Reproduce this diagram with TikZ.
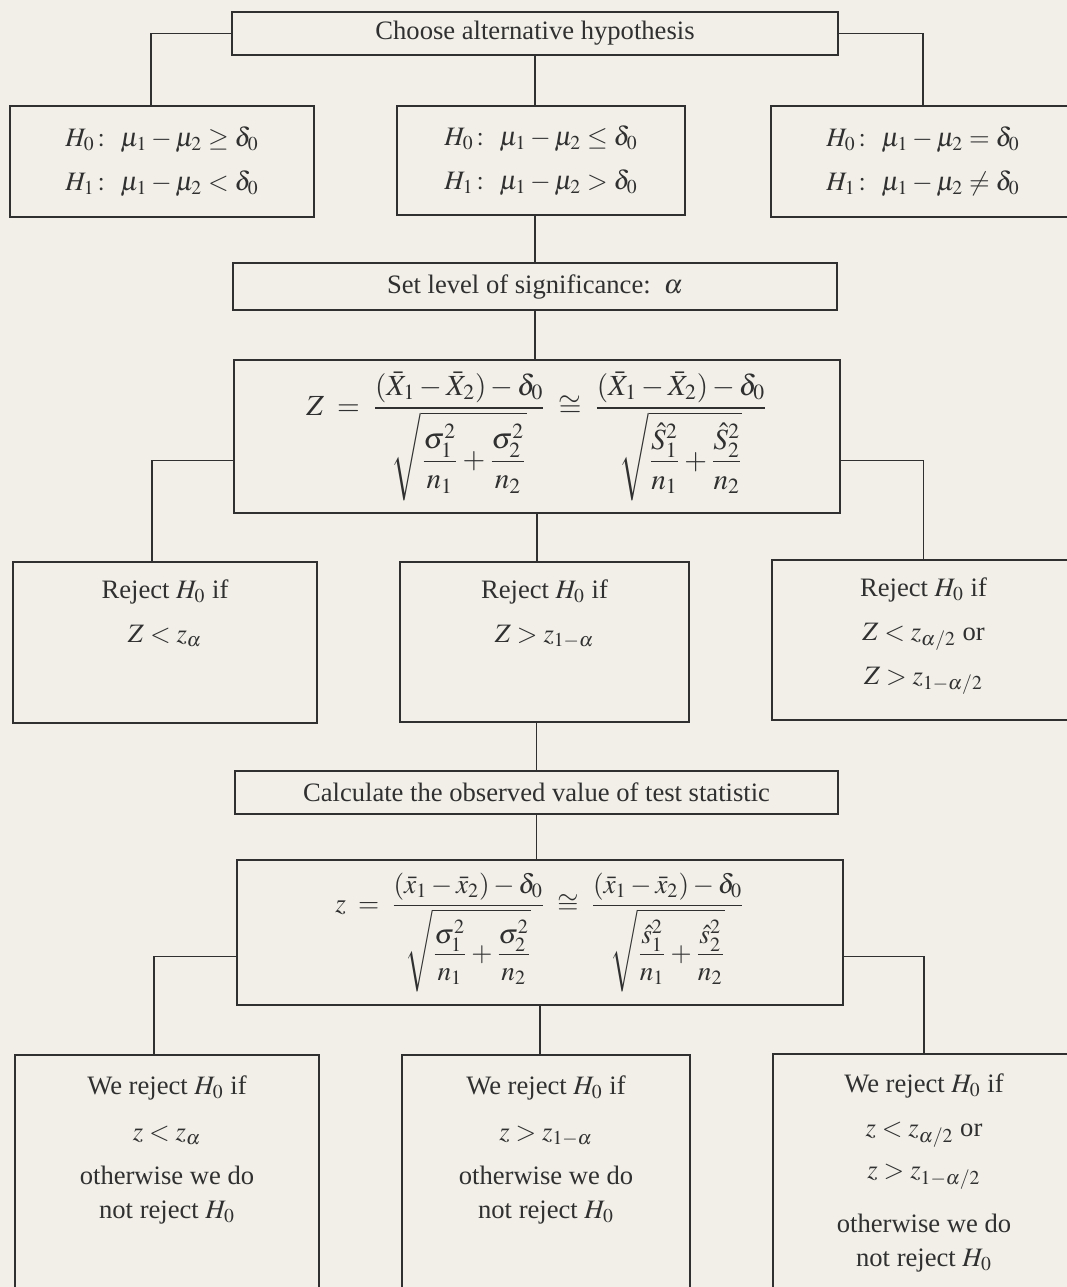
\documentclass[tikz,border=0pt]{standalone}
\usepackage{amsmath}
\usepackage{mathptmx}
\usepackage{fontspec}
\setmainfont{Liberation Serif}
\usepackage{tikz}
\usetikzlibrary{calc}
\definecolor{paperTone}{RGB}{241,239,232}
\definecolor{inkGray}{RGB}{48,48,48}

\tikzset{
  stepbox/.style={draw=inkGray,line width=1pt,inner sep=0pt,align=center},
  flowline/.style={inkGray,line width=.6pt},
  boxtext/.style={align=center,inner sep=0pt,anchor=north},
  formula/.style={font=\fontsize{#1}{17}\selectfont},
  formula/.default=14.6
}

\begin{document}
\begin{tikzpicture}[x=.5pt,y=-.5pt,font=\fontsize{13.3}{16}\selectfont,text=inkGray]
  \useasboundingbox (0,0) rectangle (1067,1287);
  \clip (0,0) rectangle (1067,1287);
  \fill[paperTone] (0,0) rectangle (1067,1287);

  % choosing the hypotheses
  \node[stepbox,minimum width=303pt,minimum height=21.5pt] (choose) at (535,33.5) {Choose alternative hypothesis};
  \node[stepbox,minimum width=152pt,minimum height=55.5pt] (hypA) at (162,161.5)
    {$H_0\colon\ \mu_1-\mu_2\geq\delta_0$\\[6pt]$H_1\colon\ \mu_1-\mu_2<\delta_0$};
  \node[stepbox,minimum width=144pt,minimum height=54.5pt] (hypB) at (541,160.5)
    {$H_0\colon\ \mu_1-\mu_2\leq\delta_0$\\[6pt]$H_1\colon\ \mu_1-\mu_2>\delta_0$};
  \node[stepbox,minimum width=152pt,minimum height=55.5pt] (hypC) at (923,161.5)
    {$H_0\colon\ \mu_1-\mu_2=\delta_0$\\[6pt]$H_1\colon\ \mu_1-\mu_2\neq\delta_0$};

  % significance and statistic
  \node[stepbox,minimum width=302pt,minimum height=23.5pt] (level) at (535,286.5) {Set level of significance:\ \ $\alpha$};
  \node[stepbox,formula,minimum width=303pt,minimum height=76.5pt] (statZ) at (537,436.5)
    {$\displaystyle Z \;=\; \frac{(\bar{X}_1-\bar{X}_2)-\delta_0}{\sqrt{\dfrac{\sigma_1^2}{n_1}+\dfrac{\sigma_2^2}{n_2}}}
      \;\cong\; \frac{(\bar{X}_1-\bar{X}_2)-\delta_0}{\sqrt{\dfrac{\hat{S}_1^2}{n_1}+\dfrac{\hat{S}_2^2}{n_2}}}$};

  % rejection regions
  \node[stepbox,minimum width=152pt,minimum height=80.5pt] (rejA) at (165,642.5) {};
  \node[stepbox,minimum width=144.5pt,minimum height=80pt] (rejB) at (544.5,642) {};
  \node[stepbox,minimum width=151.5pt,minimum height=80pt] (rejC) at (923.5,640) {};
  \node[boxtext] (rejAtxt) at ([yshift=-9pt]rejA.north) {Reject $H_0$ if\\[6pt]$Z<z_{\alpha}$};
  \node[boxtext] (rejBtxt) at ([yshift=-9pt]rejB.north) {Reject $H_0$ if\\[6pt]$Z>z_{1-\alpha}$};
  \node[boxtext] (rejCtxt) at ([yshift=-9pt]rejC.north) {Reject $H_0$ if\\[6pt]$Z<z_{\alpha/2}$ or\\[6pt]$Z>z_{1-\alpha/2}$};

  % observed value
  \node[stepbox,minimum width=301.5pt,minimum height=21.5pt] (calc) at (536.5,792.5) {Calculate the observed value of test statistic};
  \node[stepbox,formula=13.6,minimum width=303pt,minimum height=72.5pt] (statz) at (540,932.5)
    {$\displaystyle z \;=\; \frac{(\bar{x}_1-\bar{x}_2)-\delta_0}{\sqrt{\dfrac{\sigma_1^2}{n_1}+\dfrac{\sigma_2^2}{n_2}}}
      \;\cong\; \frac{(\bar{x}_1-\bar{x}_2)-\delta_0}{\sqrt{\dfrac{\hat{s}_1^2}{n_1}+\dfrac{\hat{s}_2^2}{n_2}}}$};

  % decisions
  \node[stepbox,minimum width=152pt,minimum height=127.5pt] (decA) at (167,1182.5) {};
  \node[stepbox,minimum width=144pt,minimum height=127.5pt] (decB) at (546,1182.5) {};
  \node[stepbox,minimum width=151pt,minimum height=127.5pt] (decC) at (924,1181) {};
  \node[boxtext] (decAtxt) at ([yshift=-10.5pt]decA.north)
    {We reject $H_0$ if\\[7pt]$z<z_{\alpha}$\\[6pt]otherwise we do\\[1pt]not reject $H_0$};
  \node[boxtext] (decBtxt) at ([yshift=-10.5pt]decB.north)
    {We reject $H_0$ if\\[7pt]$z>z_{1-\alpha}$\\[6pt]otherwise we do\\[1pt]not reject $H_0$};
  \node[boxtext] (decCtxt) at ([yshift=-10.5pt]decC.north)
    {We reject $H_0$ if\\[6pt]$z<z_{\alpha/2}$ or\\[5pt]$z>z_{1-\alpha/2}$\\[11pt]otherwise we do\\[1pt]not reject $H_0$};

  % connectors
  \draw[flowline] (choose.west) -| ([xshift=-5.5pt]hypA.north);
  \draw[flowline] (choose.east) -| (hypC.north);
  \draw[flowline] (choose.south) -- (choose.south |- hypB.north);
  \draw[flowline] (hypB.south -| level.north) -- (level.north);
  \draw[flowline] (level.south) -- (level.south |- statZ.north);
  \draw[flowline] ([yshift=-12pt]statZ.west) -| ([xshift=-6.5pt]rejA.north);
  \draw[flowline] ([yshift=-12pt]statZ.east) -| (rejC.north);
  \draw[flowline] (statZ.south) -- (statZ.south |- rejB.north);
  \draw[flowline] (rejB.south -| calc.north) -- (calc.north);
  \draw[flowline] (calc.south) -- (calc.south |- statz.north);
  \draw[flowline] ([yshift=-12pt]statz.west) -| ([xshift=-6.5pt]decA.north);
  \draw[flowline] ([yshift=-12pt]statz.east) -| (decC.north);
  \draw[flowline] (statz.south) -- (statz.south |- decB.north);
\end{tikzpicture}
\end{document}
